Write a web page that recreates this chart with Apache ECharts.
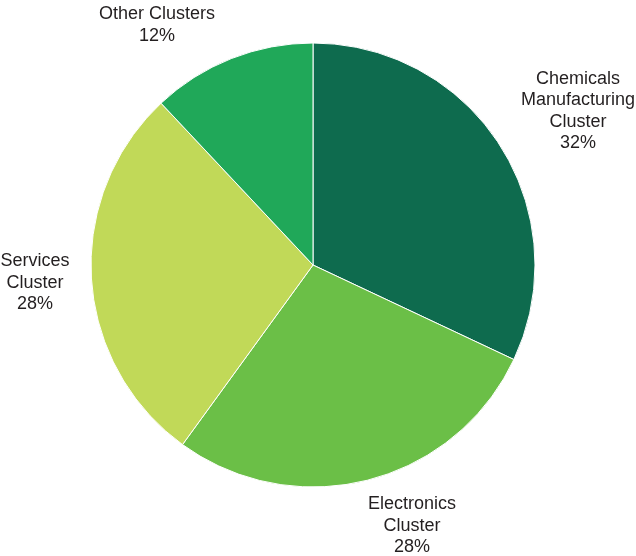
<!DOCTYPE html>
<html><head><meta charset="utf-8">
<script src="https://cdn.jsdelivr.net/npm/echarts@6/dist/echarts.min.js"></script>
<style>html,body{margin:0;padding:0;background:#fff}#c{width:636px;height:556px}</style>
</head><body><div id="c"></div>
<script>
var categories = ['Chemicals\nManufacturing\nCluster', 'Electronics\nCluster', 'Services\nCluster', 'Other Clusters'];
var values = [32, 28, 28, 12];
var colors = ['#0e6b4e', '#6bbf47', '#c1d958', '#20a859'];
var labelPos = [[578, 111], [412, 526], [35, 283], [157, 25]];

var chart = echarts.init(document.getElementById('c'));
chart.setOption({
  animation: false,
  series: [{
    type: 'pie',
    center: [313, 265],
    radius: 222,
    startAngle: 90,
    clockwise: true,
    itemStyle: { borderColor: '#fff', borderWidth: 1 },
    label: {
      show: true, position: 'outside', overflow: 'none', bleedMargin: 0,
      formatter: function (p) { return p.name + '\n' + p.value + '%'; },
      fontFamily: 'Liberation Sans, Arial, sans-serif',
      fontSize: 18, lineHeight: 21.5, color: '#231f20', align: 'center'
    },
    labelLine: { show: false },
    labelLayout: function (p) {
      var pos = labelPos[p.dataIndex];
      return { x: pos[0], y: pos[1], align: 'center', verticalAlign: 'middle' };
    },
    emphasis: { disabled: true },
    data: categories.map(function (n, i) { return { name: n, value: values[i], itemStyle: { color: colors[i] } }; })
  }]
});
</script></body></html>
